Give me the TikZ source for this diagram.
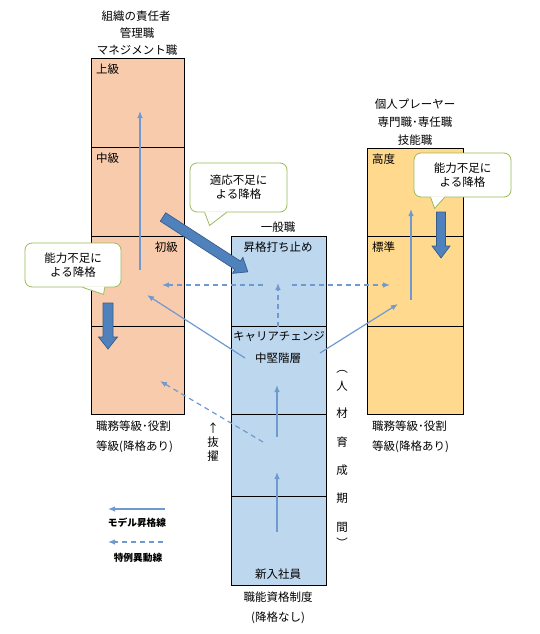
\documentclass[tikz,border=0pt]{standalone}
\usepackage{fontspec}
\setmainfont{Noto Sans CJK JP}
\usetikzlibrary{arrows.meta,calc}
\definecolor{lfill}{HTML}{F8CBAD}
\definecolor{mfill}{HTML}{BDD7EE}
\definecolor{rfill}{HTML}{FFD98E}
\definecolor{arr}{HTML}{6F9AD0}
\definecolor{blk}{HTML}{4F81BD}
\definecolor{blkd}{HTML}{385D8A}
\definecolor{cgreen}{HTML}{9BBB59}
\tikzset{
  colbox/.style={draw=black,line width=0.9pt},
  tx/.style={inner sep=0pt,font=\fontsize{11.5}{13}\selectfont},
  legtx/.style={inner sep=0pt,font=\fontsize{9.7}{11}\selectfont\bfseries},
  model/.style={draw=arr,line width=1.2pt,-{Latex[length=7pt,width=5.5pt]}},
  special/.style={draw=arr,line width=1.2pt,dash pattern=on 5pt off 4pt,-{Latex[length=7pt,width=5.5pt]}},
  blockar/.style={fill=blk,draw=blkd,line width=0.7pt,line join=miter},
  callbox/.style={draw=cgreen,fill=white,line width=0.8pt,rounded corners=7pt,align=center,
    inner sep=0pt,font=\fontsize{11.5}{14}\selectfont},
  tail/.style={draw=cgreen,line width=0.8pt,line join=miter}
}
\newcommand{\blockarr}[5]{%
  \begin{scope}[shift={(#1,#2)},rotate=#3]
  \filldraw[blockar] (0,-#5) -- ({#4-12},-#5) -- ({#4-12},{-#5-4.5}) -- (#4,0) -- ({#4-12},{#5+4.5}) -- ({#4-12},#5) -- (0,#5) -- cycle;
  \end{scope}}
\begin{document}
\begin{tikzpicture}[x=1pt,y=-1pt]
\useasboundingbox (0,0) rectangle (540,634);
\fill[white] (0,0) rectangle (540,634);

% columns
\fill[lfill] (91,58) rectangle (184,414);
\fill[mfill] (231,236) rectangle (326,585);
\fill[rfill] (367,148) rectangle (463,414);
\draw[colbox] (91,58) rectangle (184,414);
\draw[colbox] (91,147) -- (184,147) (91,236) -- (184,236) (91,326) -- (184,326);
\draw[colbox] (231,236) rectangle (326,585);
\draw[colbox] (231,326) -- (326,326) (231,414) -- (326,414) (231,496) -- (326,496);
\draw[colbox] (367,148) rectangle (463,414);
\draw[colbox] (367,236) -- (463,236) (367,326) -- (463,326);

% connector coordinates
\coordinate (a1s) at (140,270); \coordinate (a1e) at (140,111);
\coordinate (a2s) at (411,300); \coordinate (a2e) at (411,209);
\coordinate (a3s) at (277,532); \coordinate (a3e) at (277,472);
\coordinate (a4s) at (277,437); \coordinate (a4e) at (277,385);
\coordinate (d1s) at (278,327); \coordinate (d1e) at (278,283);
\coordinate (d2s) at (263,285); \coordinate (d2e) at (162,285);
\coordinate (d3s) at (292,285); \coordinate (d3e) at (390,285);
\coordinate (a5s) at (245,358); \coordinate (a5e) at (147,295);
\coordinate (a6s) at (320,353); \coordinate (a6e) at (398,304);
\coordinate (d4s) at (263,442); \coordinate (d4e) at (160,381);
\coordinate (g1s) at (165,509); \coordinate (g1e) at (108,509);
\coordinate (g2s) at (163,542); \coordinate (g2e) at (108,542);

\draw[model] (a1s) -- (a1e);
\draw[model] (a2s) -- (a2e);
\draw[model] (a3s) -- (a3e);
\draw[model] (a4s) -- (a4e);
\draw[model] (a5s) -- (a5e);
\draw[model] (a6s) -- (a6e);
\draw[special] (d1s) -- (d1e);
\draw[special] (d2s) -- (d2e);
\draw[special] (d3s) -- (d3e);
\draw[special] (d4s) -- (d4e);
\draw[model] (g1s) -- (g1e);
\draw[special] (g2s) -- (g2e);

% block arrows
\blockarr{163}{217}{-32.9}{101}{5}
\blockarr{108}{303}{-90}{46}{5}
\blockarr{441}{212}{-90}{46}{4.5}

% callouts
\node[callbox,minimum width=97pt,minimum height=49pt] (cA) at (238.5,187.5) {適応不足に\\よる降格};
\fill[white] ($(cA.south west)+(15,-1)$) -- ($(cA.south west)+(20,13)$) -- ($(cA.south west)+(37,-1)$) -- cycle;
\draw[tail] ($(cA.south west)+(15,0)$) -- ($(cA.south west)+(20,13)$) -- ($(cA.south west)+(37,0)$);

\node[callbox,minimum width=97pt,minimum height=44pt] (cR) at (462.5,175) {能力不足に\\よる降格};
\fill[white] ($(cR.south west)+(17,-1)$) -- ($(cR.south west)+(21,11)$) -- ($(cR.south west)+(31,-1)$) -- cycle;
\draw[tail] ($(cR.south west)+(17,0)$) -- ($(cR.south west)+(21,11)$) -- ($(cR.south west)+(31,0)$);

\node[callbox,minimum width=96pt,minimum height=44pt] (cL) at (73,265) {能力不足に\\よる降格};
\fill[white] ($(cL.south west)+(58,-1)$) -- ($(cL.south west)+(79,7)$) -- ($(cL.south west)+(80,-1)$) -- cycle;
\draw[tail] ($(cL.south west)+(58,0)$) -- ($(cL.south west)+(79,7)$) -- ($(cL.south west)+(80,0)$);

% texts
\node[tx] (t1) at (136,16) {組織の責任者};
\node[tx] (t2) at (137,33) {管理職};
\node[tx] (t3) at (137,50) {マネジメント職};
\node[tx,anchor=west] (lj) at (96,69) {上級};
\node[tx,anchor=west] (lm) at (96,158) {中級};
\node[tx,anchor=east] (lb) at (178,247) {初級};
\node[tx] (r1) at (415,104) {個人プレーヤー};
\node[tx] (r2) at (415,122) {専門職･専任職};
\node[tx] (r3) at (415,140) {技能職};
\node[tx,anchor=west] (rh) at (372,159) {高度};
\node[tx,anchor=west] (rs) at (372,247) {標準};
\node[tx] (m0) at (278,227) {一般職};
\node[tx] (m1) at (278,247) {昇格打ち止め};
\node[tx] (m2) at (279,336) {キャリアチェンジ};
\node[tx] (m3) at (278,358) {中堅階層};
\node[tx] (m4) at (278,574) {新入社員};
\node[tx] (m5) at (278,597) {職能資格制度};
\node[tx] (m6) at (278,618) {(降格なし)};
\node[tx,anchor=west] (lf1) at (96,426) {職務等級･役割};
\node[tx,anchor=west] (lf2) at (96,447) {等級(降格あり)};
\node[tx,anchor=west] (rf1) at (372,426) {職務等級･役割};
\node[tx,anchor=west] (rf2) at (372,447) {等級(降格あり)};

% vertical text
\node[tx] (v0) at (342,372) {︵};
\node[tx] (v1) at (342,386) {人};
\node[tx] (v2) at (342,413) {材};
\node[tx] (v3) at (342,442) {育};
\node[tx] (v4) at (342,470) {成};
\node[tx] (v5) at (342,498) {期};
\node[tx] (v6) at (342,527) {間};
\node[tx] (v7) at (342,543) {︶};

\node[tx] (b0) at (213,428) {↑};
\node[tx] (b1) at (213,442) {抜};
\node[tx] (b2) at (213,456) {擢};

% legend
\node[legtx] (gl1) at (137,523) {モデル昇格線};
\node[legtx] (gl2) at (138,558) {特例異動線};
\end{tikzpicture}
\end{document}
